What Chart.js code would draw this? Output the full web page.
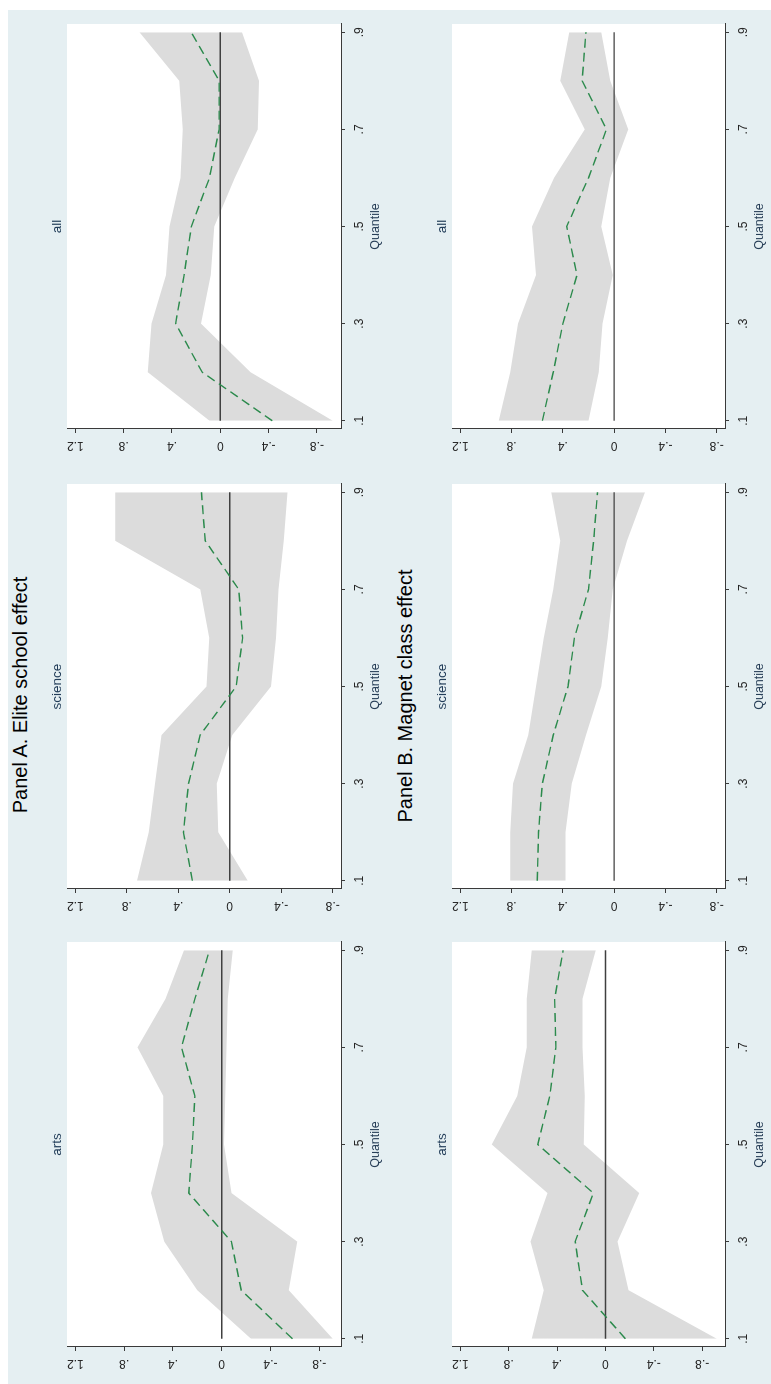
<!DOCTYPE html>
<html>
<head>
<meta charset="utf-8">
<script src="https://cdn.jsdelivr.net/npm/chart.js@4.4.1/dist/chart.umd.min.js"></script>
<style>
  html, body { margin: 0; padding: 0; background: #fff; width: 771px; height: 1384px; overflow: hidden; }
  /* the figure is laid out landscape and turned a quarter turn, like the scan */
  #fig { position: absolute; left: 0; top: 0; width: 1384px; height: 771px; background: #fff;
         transform-origin: 0 0; transform: translateY(1384px) rotate(-90deg); }
  #bg { position: absolute; left: 0; top: 8px; width: 1374px; height: 763px; background: #e5eff2; }
  .cell { position: absolute; }
  .ttl { position: absolute; white-space: nowrap; transform: translate(-50%, -50%);
         font-family: "Liberation Sans", Arial, sans-serif; }
  .panel { font-size: 20px; color: #000; }
  .sub { font-size: 13.5px; color: #233e5a; }
</style>
</head>
<body>
<div id="fig"><div id="bg"></div></div>
<script>
const quantiles = [0.1, 0.2, 0.3, 0.4, 0.5, 0.6, 0.7, 0.8, 0.9];
const xTicks = [0.1, 0.3, 0.5, 0.7, 0.9];
const yTicks = [-0.8, -0.4, 0, 0.4, 0.8, 1.2];
const subjects = ["arts", "science", "all"];
const panelTitles = ["Panel A. Elite school effect", "Panel B. Magnet class effect"];

// Panel A. Elite school effect
const eliteArtsEst = [-0.58, -0.16, -0.08, 0.27, 0.24, 0.22, 0.33, 0.22, 0.10];
const eliteArtsLo  = [-0.91, -0.55, -0.62, -0.08, -0.02, -0.03, -0.04, -0.05, -0.09];
const eliteArtsHi  = [-0.24, 0.20, 0.47, 0.58, 0.48, 0.48, 0.69, 0.46, 0.31];

const eliteSciEst = [0.29, 0.36, 0.32, 0.23, -0.05, -0.10, -0.07, 0.19, 0.22];
const eliteSciLo  = [-0.14, 0.09, 0.10, -0.02, -0.32, -0.36, -0.38, -0.42, -0.45];
const eliteSciHi  = [0.72, 0.63, 0.58, 0.53, 0.18, 0.16, 0.23, 0.89, 0.89];

const eliteAllEst = [-0.43, 0.15, 0.37, 0.30, 0.24, 0.09, 0.01, 0.01, 0.24];
const eliteAllLo  = [-0.93, -0.25, 0.16, 0.08, 0.05, -0.12, -0.31, -0.32, -0.18];
const eliteAllHi  = [0.09, 0.60, 0.57, 0.45, 0.42, 0.33, 0.31, 0.34, 0.67];

// Panel B. Magnet class effect
const magnetArtsEst = [-0.165, 0.19, 0.25, 0.10, 0.56, 0.46, 0.41, 0.42, 0.35];
const magnetArtsLo  = [-0.92, -0.19, -0.10, -0.28, 0.18, 0.17, 0.19, 0.19, 0.08];
const magnetArtsHi  = [0.61, 0.51, 0.62, 0.48, 0.94, 0.73, 0.65, 0.65, 0.61];

const magnetSciEst = [0.60, 0.59, 0.56, 0.475, 0.36, 0.31, 0.20, 0.16, 0.13];
const magnetSciLo  = [0.38, 0.38, 0.33, 0.22, 0.10, 0.05, 0.01, -0.10, -0.24];
const magnetSciHi  = [0.81, 0.81, 0.79, 0.67, 0.61, 0.55, 0.475, 0.42, 0.49];

const magnetAllEst = [0.56, 0.475, 0.40, 0.29, 0.37, 0.20, 0.06, 0.25, 0.22];
const magnetAllLo  = [0.20, 0.12, 0.09, 0.01, 0.10, 0.03, -0.11, 0.03, 0.10];
const magnetAllHi  = [0.90, 0.81, 0.75, 0.61, 0.64, 0.47, 0.23, 0.42, 0.35];

const panels = [
  [[eliteArtsEst, eliteArtsLo, eliteArtsHi], [eliteSciEst, eliteSciLo, eliteSciHi], [eliteAllEst, eliteAllLo, eliteAllHi]],
  [[magnetArtsEst, magnetArtsLo, magnetArtsHi], [magnetSciEst, magnetSciLo, magnetSciHi], [magnetAllEst, magnetAllLo, magnetAllHi]]
];

// layout (landscape coordinates, before the turn)
const colLeft = [37, 495, 955];
const plotW = 405;
const rowTop = [67, 452];
const rowH = [274, 273];
const YW = 40, XH = 45, PADT = 14, PADR = 8;

const BAND = "#dcdcdc";
const GREEN = "#2b8a4c";
const AXIS = "#3a3a3a";
const LABEL = "#262626";
const FONT = '"Liberation Sans", Arial, sans-serif';
Chart.defaults.font.family = FONT;

function fmt(v) {
  if (Math.abs(v) < 1e-9) return "0";
  return String(Math.round(v * 10) / 10).replace(/^(-?)0\./, "$1.");
}

function pts(arr) {
  return quantiles.map((q, i) => ({ x: q, y: arr[i] }));
}

// Stata-style range: ticks plus data, with a small plot-region margin
function valueRange(est, lo, hi) {
  const all = est.concat(lo, hi);
  const a = Math.min(yTicks[0], ...all);
  const b = Math.max(yTicks[yTicks.length - 1], ...all);
  const pad = 0.0325 * (b - a);
  return { min: a - pad, max: b + pad };
}

const plotBg = {
  id: "plotBg",
  beforeDraw(chart) {
    const { ctx, chartArea: a } = chart;
    ctx.save();
    ctx.fillStyle = "#fff";
    ctx.fillRect(a.left, a.top, a.width, a.height);
    ctx.restore();
  }
};

const fig = document.getElementById("fig");

function addText(cls, text, x, y) {
  const d = document.createElement("div");
  d.className = "ttl " + cls;
  d.textContent = text;
  d.style.left = x + "px";
  d.style.top = y + "px";
  fig.appendChild(d);
}

addText("panel", panelTitles[0], 689, 19.5);
addText("panel", panelTitles[1], 688, 405);

panels.forEach((row, r) => {
  row.forEach((series, c) => {
    const [est, lo, hi] = series;
    const zeros = quantiles.map(() => 0);
    const yr = valueRange(est, lo, hi);
    const xPad = 0.017;

    const cell = document.createElement("div");
    cell.className = "cell";
    const w = plotW + YW + PADR;
    const h = rowH[r] + PADT + XH;
    cell.style.left = (colLeft[c] - YW) + "px";
    cell.style.top = (rowTop[r] - PADT) + "px";
    cell.style.width = w + "px";
    cell.style.height = h + "px";
    const cv = document.createElement("canvas");
    cv.width = w; cv.height = h;
    cv.style.width = w + "px"; cv.style.height = h + "px";
    cell.appendChild(cv);
    fig.appendChild(cell);

    addText("sub", subjects[c], colLeft[c] + plotW / 2, rowTop[r] - 11);

    new Chart(cv, {
      type: "line",
      data: {
        datasets: [
          { data: pts(hi), borderColor: "rgba(0,0,0,0)", borderWidth: 1, pointRadius: 0,
            fill: "+1", backgroundColor: BAND, order: 3 },
          { data: pts(lo), borderColor: "rgba(0,0,0,0)", borderWidth: 1, pointRadius: 0,
            fill: false, order: 3 },
          { data: pts(est), borderColor: GREEN, borderWidth: 1.4, borderDash: [9, 5],
            pointRadius: 0, fill: false, order: 0 },
          { data: pts(zeros), borderColor: "#404040", borderWidth: 1.4, pointRadius: 0,
            fill: false, order: 1 }
        ]
      },
      options: {
        responsive: false,
        animation: false,
        events: [],
        layout: { padding: { left: 0, top: PADT, right: PADR, bottom: 0 } },
        plugins: { legend: { display: false }, tooltip: { enabled: false } },
        scales: {
          x: {
            type: "linear",
            min: quantiles[0] - xPad,
            max: quantiles[quantiles.length - 1] + xPad,
            afterBuildTicks: s => { s.ticks = xTicks.map(v => ({ value: v })); },
            afterFit: s => { s.height = XH; },
            ticks: { callback: v => fmt(v), font: { size: 12 }, color: LABEL, padding: 7,
                     maxRotation: 0, autoSkip: false },
            grid: { drawOnChartArea: false, tickLength: 4, color: AXIS, lineWidth: 1 },
            border: { color: AXIS, width: 1 },
            title: { display: true, text: "Quantile", color: "#283f58",
                     font: { size: 12.5 }, padding: { top: 0, bottom: 3 } }
          },
          y: {
            type: "linear",
            min: yr.min,
            max: yr.max,
            afterBuildTicks: s => { s.ticks = yTicks.map(v => ({ value: v })); },
            afterFit: s => { s.width = YW; },
            ticks: { callback: v => fmt(v), font: { size: 12 }, color: LABEL, padding: 4,
                     minRotation: 90, maxRotation: 90, crossAlign: "center", autoSkip: false },
            grid: { drawOnChartArea: false, tickLength: 4, color: AXIS, lineWidth: 1 },
            border: { color: AXIS, width: 1 }
          }
        }
      },
      plugins: [plotBg]
    });
  });
});
</script>
</body>
</html>
